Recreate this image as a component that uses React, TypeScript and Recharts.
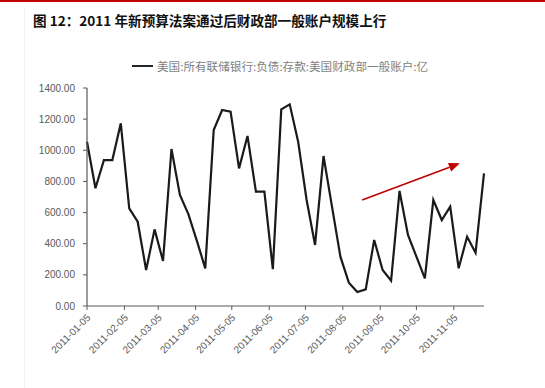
import React from 'react';
import { LineChart, Line, XAxis, YAxis, ReferenceLine } from 'recharts';

const dates = [
  '2011-01-05', '2011-01-12', '2011-01-19', '2011-01-26',
  '2011-02-02', '2011-02-09', '2011-02-16', '2011-02-23',
  '2011-03-02', '2011-03-09', '2011-03-16', '2011-03-23', '2011-03-30',
  '2011-04-06', '2011-04-13', '2011-04-20', '2011-04-27',
  '2011-05-04', '2011-05-11', '2011-05-18', '2011-05-25',
  '2011-06-01', '2011-06-08', '2011-06-15', '2011-06-22', '2011-06-29',
  '2011-07-06', '2011-07-13', '2011-07-20', '2011-07-27',
  '2011-08-03', '2011-08-10', '2011-08-17', '2011-08-24', '2011-08-31',
  '2011-09-07', '2011-09-14', '2011-09-21', '2011-09-28',
  '2011-10-05', '2011-10-12', '2011-10-19', '2011-10-26',
  '2011-11-02', '2011-11-09', '2011-11-16', '2011-11-23', '2011-11-30',
];

const tgaBalance = [
  1055, 756, 937, 937, 1173, 627, 541, 231, 492, 289, 1008, 713, 590,
  420, 242, 1130, 1259, 1248, 884, 1092, 734, 734, 236, 1263, 1295,
  1055, 681, 392, 963, 640, 317, 150, 90, 107, 424, 231, 163, 739,
  456, 317, 178, 681, 552, 638, 242, 445, 342, 852,
];

const xTickLabels = [
  '2011-01-05', '2011-02-05', '2011-03-05', '2011-04-05', '2011-05-05', '2011-06-05',
  '2011-07-05', '2011-08-05', '2011-09-05', '2011-10-05', '2011-11-05',
];

const yTicks = [0, 200, 400, 600, 800, 1000, 1200, 1400];

const arrowFrom = { date: '2011-08-21', value: 681 };
const arrowTo = { date: '2011-11-10', value: 916 };

const title = '图 12：2011 年新预算法案通过后财政部一般账户规模上行';
const seriesName = '美国:所有联储银行:负债:存款:美国财政部一般账户:亿';

const toT = (s: string) => Date.parse(s);

const data = dates.map((d, i) => ({ t: toT(d), v: tgaBalance[i] }));
const xTicks = xTickLabels.map(toT);
const labelByT: Record<number, string> = {};
xTickLabels.forEach((l) => { labelByT[toT(l)] = l; });

const AXIS_FONT = '"Liberation Sans", Arial, sans-serif';
const CJK_FONT = '"Noto Sans CJK SC", "Noto Sans", sans-serif';

const XTick = (props: any) => {
  const { x, y, payload } = props;
  return (
    <g transform={`translate(${x},${y})`}>
      <text
        x={0}
        y={0}
        dy={6}
        textAnchor="end"
        transform="rotate(-45)"
        fontSize={10}
        fill="#595959"
        stroke="none"
        fontFamily={AXIS_FONT}
      >
        {labelByT[payload.value]}
      </text>
    </g>
  );
};

const Arrow = (props: any) => {
  const { x1, y1, x2, y2 } = props;
  if ([x1, y1, x2, y2].some((v) => typeof v !== 'number' || isNaN(v))) return null;
  const ang = Math.atan2(y2 - y1, x2 - x1);
  const len = 11;
  const half = 4.5;
  const bx = x2 - len * Math.cos(ang);
  const by = y2 - len * Math.sin(ang);
  const px = -Math.sin(ang) * half;
  const py = Math.cos(ang) * half;
  return (
    <g>
      <line x1={x1} y1={y1} x2={bx} y2={by} stroke="#c00000" strokeWidth={1.6} />
      <polygon
        points={`${x2},${y2} ${bx + px},${by + py} ${bx - px},${by - py}`}
        fill="#c00000"
      />
    </g>
  );
};

export default function App() {
  return (
    <div style={{ position: 'absolute', left: 0, top: 0, width: 545, height: 388, background: '#fff', overflow: 'hidden' }}>
      <div style={{ position: 'absolute', left: 0, top: 0, width: 545, height: 2, background: '#c00000' }} />
      <div style={{ position: 'absolute', left: 24, top: 8, width: 1, height: 380, background: '#f3f3f3' }} />
      <div
        style={{
          position: 'absolute',
          left: 33,
          top: 10,
          fontFamily: CJK_FONT,
          fontWeight: 'bold',
          fontSize: 13.6,
          lineHeight: '20px',
          color: '#111',
          whiteSpace: 'nowrap',
        }}
      >
        {title}
      </div>
      <div
        style={{
          position: 'absolute',
          left: 132,
          top: 58,
          display: 'flex',
          alignItems: 'center',
          fontFamily: CJK_FONT,
          fontSize: 11.6,
          lineHeight: '16px',
          color: '#7f7f7f',
          whiteSpace: 'nowrap',
        }}
      >
        <span style={{ display: 'inline-block', width: 21, height: 2, background: '#262626', marginRight: 4 }} />
        <span>{seriesName}</span>
      </div>
      <div style={{ position: 'absolute', left: 0, top: 0 }}>
        <LineChart width={545} height={388} data={data} margin={{ top: 88, right: 61, bottom: 22, left: 27 }}>
          <XAxis
            dataKey="t"
            type="number"
            scale="time"
            domain={['dataMin', 'dataMax']}
            ticks={xTicks}
            tick={<XTick />}
            interval={0}
            height={60}
            tickSize={4}
            tickMargin={4}
            stroke="#595959"
            axisLine={{ stroke: '#595959', strokeWidth: 1.2 }}
            tickLine={{ stroke: '#595959' }}
          />
          <YAxis
            domain={[0, 1400]}
            ticks={yTicks}
            width={60}
            tickSize={4}
            tickMargin={8}
            interval={0}
            tickFormatter={(v: number) => v.toFixed(2)}
            tick={{ fontSize: 10, fill: '#595959', fontFamily: AXIS_FONT }}
            axisLine={{ stroke: '#595959', strokeWidth: 1.2 }}
            tickLine={{ stroke: '#595959' }}
          />
          <Line
            type="linear"
            dataKey="v"
            stroke="#1a1a1a"
            strokeWidth={2.2}
            dot={false}
            isAnimationActive={false}
          />
          <ReferenceLine
            segment={[
              { x: toT(arrowFrom.date), y: arrowFrom.value },
              { x: toT(arrowTo.date), y: arrowTo.value },
            ]}
            shape={<Arrow />}
            ifOverflow="visible"
          />
        </LineChart>
      </div>
    </div>
  );
}
